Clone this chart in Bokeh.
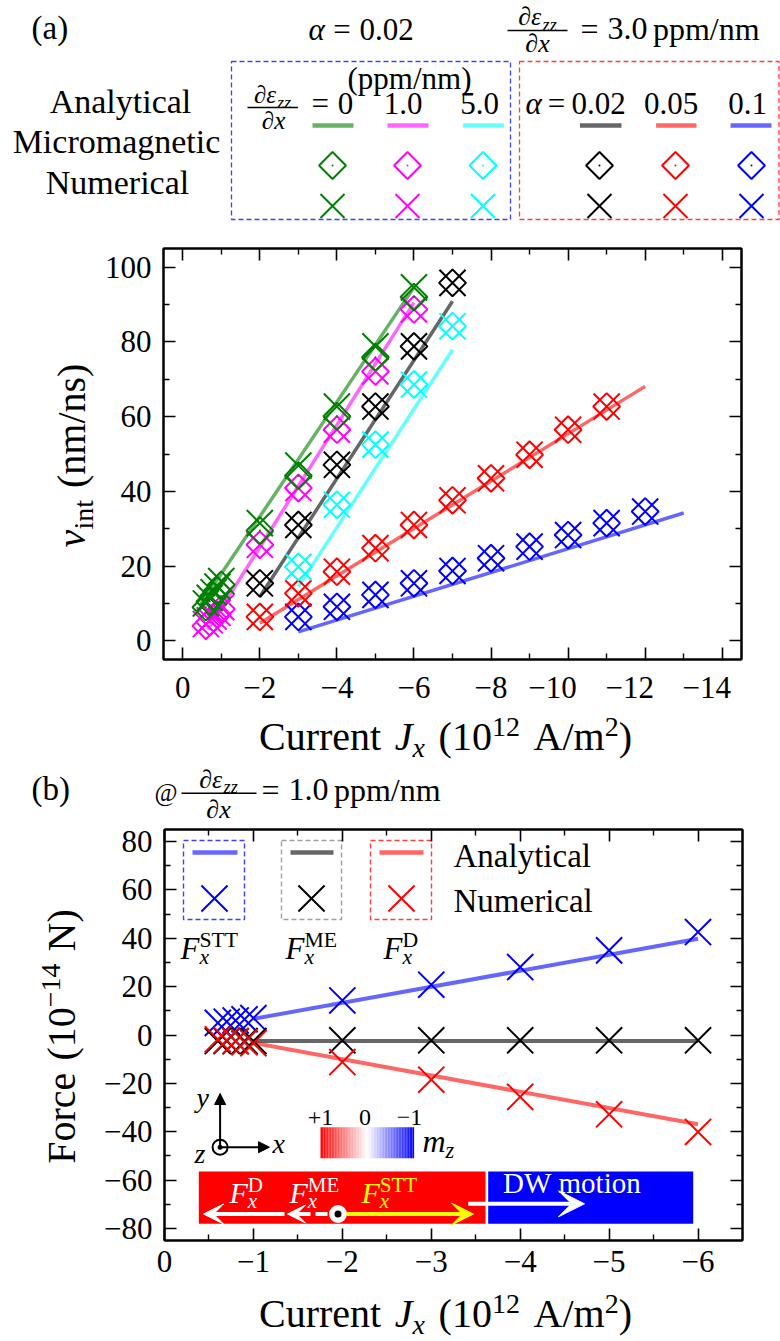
import numpy as np
from bokeh.plotting import figure
from bokeh.models import (Range1d, LinearAxis, FixedTicker, Label, Arrow, VeeHead,
                          NormalHead)
from bokeh.layouts import row
from bokeh.embed import file_html
from bokeh.resources import INLINE

FONT = "Liberation Serif"

# ------------------------------------------------------------------ data (a)
J_grad = [-0.6, -0.7, -0.8, -0.9, -1.0, -2.0, -3.0, -4.0, -5.0, -6.0]
v_g0_micro = [9.0, 10.5, 12.0, 13.5, 15.0, 29.5, 44.2, 60.1, 75.9, 92.0]
v_g0_num = [10.0, 11.5, 13.0, 14.5, 16.0, 31.5, 46.9, 62.7, 78.8, 94.6]
v_g1_micro = [4.0, 5.0, 6.0, 7.0, 8.5, 25.7, 40.9, 56.5, 72.1, 88.7]
v_g1_num = [4.5, 5.5, 6.5, 7.5, 9.0, 25.7, 40.9, 56.5, 72.1, 88.7]
J_g5 = [-3.0, -4.0, -5.0, -6.0, -7.0]
v_g5 = [19.8, 36.4, 52.5, 68.6, 84.2]
J_a002 = [-2.0, -3.0, -4.0, -5.0, -6.0, -7.0]
v_a002 = [15.4, 31.0, 47.1, 62.7, 78.8, 95.8]
J_a005 = [-2.0, -3.0, -4.0, -5.0, -6.0, -7.0, -8.0, -9.0, -10.0, -11.0]
v_a005 = [6.4, 12.7, 18.5, 24.8, 31.0, 37.6, 43.5, 49.8, 56.5, 62.7]
J_a01 = [-3.0, -4.0, -5.0, -6.0, -7.0, -8.0, -9.0, -10.0, -11.0, -12.0]
v_a01 = [6.4, 9.1, 12.3, 15.4, 18.7, 22.1, 25.2, 28.3, 31.5, 34.6]
# analytical curves (straight lines, end points)
Jl_g0, vl_g0 = [-0.45, -6.0], [9.5, 94.6]
Jl_g1, vl_g1 = [-0.65, -6.0], [3.0, 90.5]
Jl_g5, vl_g5 = [-3.0, -7.0], [14.5, 77.9]
Jl_a002, vl_a002 = [-2.0, -7.0], [11.8, 90.9]
Jl_a005, vl_a005 = [-2.0, -12.0], [4.7, 68.1]
Jl_a01, vl_a01 = [-3.0, -13.0], [2.4, 34.2]

xt_a = [0, -2, -4, -6, -8, -10, -12, -14]
xt_a_lab = ["0", "−2", "−4", "−6", "−8", "−10\u2002\u2002", "−12\u2002\u2002", "−14\u2002\u2002"]
xm_a = [-1, -3, -5, -7, -9, -11, -13]
yt_a = [0, 20, 40, 60, 80, 100]
yt_a_lab = ["0", "20", "40", "60", "80", "100"]
ym_a = [10, 30, 50, 70, 90]

# ------------------------------------------------------------------ data (b)
J_b = [-0.6, -0.7, -0.8, -0.9, -1.0, -2.0, -3.0, -4.0, -5.0, -6.0]
F_stt = [5.0, 5.5, 6.0, 6.5, 7.0, 14.3, 20.8, 28.1, 35.0, 42.6]
F_me = [-2.5, -2.5, -2.5, -2.5, -2.5, -2.2, -2.2, -2.2, -2.2, -2.2]
F_d = [-1.8, -2.2, -2.6, -3.0, -3.4, -11.2, -18.5, -25.6, -32.8, -40.1]
Jl_b = [-1.0, -6.0]
Fl_stt = [6.7, 39.8]
Fl_me = [-2.5, -2.5]
Fl_d = [-3.3, -36.9]

xt_b = [0, -1, -2, -3, -4, -5, -6]
xt_b_lab = ["0", "−1", "−2", "−3", "−4", "−5", "−6"]
xm_b = [-0.5, -1.5, -2.5, -3.5, -4.5, -5.5]
yt_b = [-80, -60, -40, -20, 0, 20, 40, 60, 80]
yt_b_lab = ["−80", "−60", "−40", "−20", "0", "20", "40", "60", "80"]
ym_b = [-70, -50, -30, -10, 10, 30, 50, 70]

GREEN, MAG, CYAN, BLACK, RED, BLUE = "#008000", "#ff00ff", "#00ffff", "#000000", "#ff0000", "#0000ff"

# ------------------------------------------------------------------ text helpers
W_R = {' ': 250, '(': 333, ')': 333, '+': 564, '.': 250, '/': 278, '=': 564, '@': 921,
       '−': 564, '∂': 494, 'α': 550, 'ε': 440}
for _d in "0123456789":
    W_R[_d] = 500
W_R.update({'A': 722, 'C': 667, 'D': 722, 'E': 611, 'F': 556, 'M': 889, 'N': 722, 'S': 556,
            'T': 611, 'W': 944, 'a': 444, 'b': 500, 'c': 444, 'd': 500, 'e': 444, 'f': 333,
            'g': 500, 'h': 500, 'i': 278, 'l': 278, 'm': 778, 'n': 500, 'o': 500, 'p': 500,
            'r': 333, 's': 389, 't': 278, 'u': 500, 'v': 500, 'w': 722, 'x': 500, 'y': 500,
            'z': 444})
W_I = dict(W_R)
W_I.update({'F': 611, 'J': 444, 'v': 444, 'x': 444, 'y': 444, 'z': 389, 'm': 722, 'α': 520})
MID = 0.3375   # distance baseline -> middle of the text box, in em


def tw(s, size, italic):
    tab = W_I if italic else W_R
    return sum(tab.get(c, 500) for c in s) / 1000.0 * size


def ident(px, py):
    return px, py


def runs(p, conv, parts, px, py, size, color="black", align="left", vertical=False,
         sub=0.2, sup=0.36):
    """Draw a run of text pieces; (px, py) is the baseline start in page pixels."""
    items = []
    adv = 0.0
    last = 0.0
    for part in parts:
        t, st = part[0], part[1]
        stack = len(part) > 2 and part[2]
        if st == "gap":
            adv += t * size
            continue
        small = st.startswith("sub") or st.startswith("sup")
        s = size * 0.7 if small else size
        italic = st in ("i", "subi", "supi")
        w = tw(t, s, italic)
        x0 = last if stack else adv
        if st.startswith("sub"):
            dy = sub * size
        elif st.startswith("sup"):
            dy = -sup * size
        else:
            dy = 0.0
        items.append((t, s, italic, x0, dy - MID * s))
        last = x0
        adv = max(adv, x0 + w) if stack else x0 + w
    off = {"left": 0.0, "center": -adv / 2.0, "right": -adv}[align]
    for t, s, italic, x0, dy in items:
        a = x0 + off
        if vertical:
            qx, qy, ang = px + dy, py - a, np.pi / 2
        else:
            qx, qy, ang = px + a, py + dy, 0.0
        x, y = conv(qx, qy)
        p.add_layout(Label(x=x, y=y, text=t, text_font=FONT, text_font_size=f"{s:.1f}px",
                           text_font_style="italic" if italic else "normal",
                           text_color=color, text_baseline="middle", text_align="left",
                           angle=ang))


def make_conv(fl, ft, fw, fh, xl, xr, yt, yb):
    def conv(px, py):
        return (xl + (px - fl) / fw * (xr - xl), yt + (py - ft) / fh * (yb - yt))
    return conv


def band(x0, y0, w, h, top=0, bottom=0):
    """A frameless figure whose data units are page pixels."""
    p = figure(frame_width=w, frame_height=h, x_range=Range1d(x0, x0 + w),
               y_range=Range1d(y0 + h, y0), x_axis_location=None, y_axis_location=None,
               min_border=0, min_border_left=0, min_border_right=0, min_border_top=top,
               min_border_bottom=bottom, toolbar_location=None, output_backend="svg",
               title=None, outline_line_color=None)
    p.grid.visible = False
    return p


def setup_axes(p, xt, xm, xl, yt, ym, yl):
    p.add_layout(LinearAxis(), "above")
    p.add_layout(LinearAxis(), "right")
    for ax in p.xaxis:
        ax.ticker = FixedTicker(ticks=xt, minor_ticks=xm)
    for ax in p.yaxis:
        ax.ticker = FixedTicker(ticks=yt, minor_ticks=ym)
    for ax in list(p.xaxis) + list(p.yaxis):
        ax.axis_line_width = 2
        ax.axis_line_color = "black"
        ax.major_tick_in = 12
        ax.major_tick_out = 0
        ax.minor_tick_in = 6
        ax.minor_tick_out = 0
        ax.major_tick_line_width = 1.6
        ax.minor_tick_line_width = 1.4
        ax.major_label_text_font = FONT
        ax.major_label_text_font_size = "31px"
        ax.major_label_text_color = "black"
    p.below[0].major_label_overrides = dict(zip(xt, xl))
    p.left[0].major_label_overrides = dict(zip(yt, yl))
    p.below[0].major_label_standoff = 10
    p.left[0].major_label_standoff = 12
    for ax in (p.above[0], p.right[0]):
        ax.major_label_text_font_size = "1px"
        ax.major_label_text_color = None
        ax.major_label_standoff = 0
    p.xgrid.visible = False
    p.ygrid.visible = False
    p.outline_line_color = "black"
    p.outline_line_width = 2


def diamonds(p, x, y, color, size=19):
    p.scatter(x, y, marker="square", angle=np.pi / 4, size=size, fill_color=None,
              line_color=color, line_width=2)
    p.scatter(x, y, marker="circle", size=2, fill_color=color, line_color=None)


def crosses(p, x, y, color, size=37, lw=2):
    p.scatter(x, y, marker="x", size=size, line_color=color, line_width=lw)


XLABEL = [("Current", "r"), (0.34, "gap"), ("J", "i"), ("x", "subi"), (0.34, "gap"),
          ("(10", "r"), ("12", "sup"), (0.34, "gap"), ("A/m", "r"), ("2", "sup"), (")", "r")]

# ================================================================== legend (a)  (page y 0-236)
pL = band(0, 0, 780, 236)

runs(pL, ident, [("(a)", "r")], 31, 39, 33)
runs(pL, ident, [("α", "i"), (0.28, "gap"), ("=", "r"), (0.28, "gap"), ("0.02", "r")], 308, 39, 31)
runs(pL, ident, [("∂", "r"), ("ε", "i"), ("zz", "subi")], 537, 25, 26, align="center")
pL.segment(507, 30, 567, 30, line_color="black", line_width=1.5)
runs(pL, ident, [("∂", "r"), ("x", "i")], 537, 52, 26, align="center")
runs(pL, ident, [("=", "r"), (0.28, "gap"), ("3.0", "r"), (0.17, "gap"), ("ppm/nm", "r")], 580, 39, 32)

runs(pL, ident, [("Analytical", "r")], 120, 112, 34, align="center")
runs(pL, ident, [("Micromagnetic", "r")], 116, 152, 34, align="center")
runs(pL, ident, [("Numerical", "r")], 117, 193, 34, align="center")

pL.quad(left=[231, 519], right=[510, 778.5], top=[61, 61], bottom=[219, 219], fill_color=None,
        line_color=[BLUE, RED], line_alpha=0.75, line_width=1.3, line_dash="5 3")

runs(pL, ident, [("(ppm/nm)", "r")], 409, 88, 31, align="center")
runs(pL, ident, [("∂", "r"), ("ε", "i"), ("zz", "subi")], 272, 102, 25, align="center")
pL.segment(247, 107, 297.5, 107, line_color="black", line_width=1.4)
runs(pL, ident, [("∂", "r"), ("x", "i")], 273, 128, 25, align="center")
runs(pL, ident, [("=", "r"), (0.28, "gap"), ("0", "r")], 311, 113, 31)
runs(pL, ident, [("1.0", "r")], 402.5, 113, 31, align="center")
runs(pL, ident, [("5.0", "r")], 479, 113, 31, align="center")
runs(pL, ident, [("α", "i"), (0.2, "gap"), ("=", "r"), (0.2, "gap"), ("0.02", "r")], 525, 113, 31)
runs(pL, ident, [("0.05", "r")], 670.5, 113, 31, align="center")
runs(pL, ident, [("0.1", "r")], 747, 113, 31, align="center")

leg_cols = [GREEN, MAG, CYAN, BLACK, RED, BLUE]
leg_x0 = [312, 387, 462.6, 579.5, 655.6, 730]
leg_x1 = [353, 428, 503.4, 621, 696, 771]
leg_xm = [332, 407, 482.5, 599, 675, 751]
pL.segment(leg_x0, [125] * 6, leg_x1, [125] * 6, line_color=leg_cols, line_width=4.5,
           line_alpha=0.6)
pL.scatter(leg_xm, [165] * 6, marker="square", angle=np.pi / 4, size=19, fill_color=None,
           line_color=leg_cols, line_width=2)
pL.scatter(leg_xm, [165] * 6, marker="circle", size=2, fill_color=leg_cols, line_color=None)
pL.scatter(leg_xm, [205.5] * 6, marker="x", size=34, line_color=leg_cols, line_width=2)

# ================================================================== panel (a)  (page y 236-707)
sA = band(0, 248, 100, 411, top=12, bottom=48)
pA = figure(frame_width=578, frame_height=411, x_range=Range1d(0.5, -14.5),
            y_range=Range1d(-5, 105), min_border_left=63, min_border_right=39,
            min_border_top=12, min_border_bottom=48, toolbar_location=None,
            output_backend="svg", title=None)
setup_axes(pA, xt_a, xm_a, xt_a_lab, yt_a, ym_a, yt_a_lab)

for Jl, vl, c in [(Jl_a01, vl_a01, BLUE), (Jl_a005, vl_a005, RED), (Jl_a002, vl_a002, BLACK),
                  (Jl_g5, vl_g5, CYAN), (Jl_g1, vl_g1, MAG), (Jl_g0, vl_g0, GREEN)]:
    pA.line(Jl, vl, line_color=c, line_width=3.5, line_alpha=0.6)

for J, vm, vn, c in [(J_a01, v_a01, v_a01, BLUE), (J_a005, v_a005, v_a005, RED),
                     (J_a002, v_a002, v_a002, BLACK), (J_g5, v_g5, v_g5, CYAN),
                     (J_grad, v_g1_micro, v_g1_num, MAG), (J_grad, v_g0_micro, v_g0_num, GREEN)]:
    diamonds(pA, J, vm, c)
    crosses(pA, J, vn, c)

runs(sA, ident, [("v", "i"), ("int", "sub"), (0.3, "gap"), ("(nm/ns)", "r")], 84, 455, 40,
     align="center", vertical=True)

pXA = band(0, 707, 780, 57)
runs(pXA, ident, XLABEL, 445, 749, 40, align="center", sub=0.18, sup=0.33)

# ================================================================== title (b)  (page y 764-824)
pTB = band(0, 764, 780, 60)
runs(pTB, ident, [("(b)", "r")], 31, 800, 33)
runs(pTB, ident, [("@", "r")], 154, 800, 25)
runs(pTB, ident, [("∂", "r"), ("ε", "i"), ("zz", "subi")], 218, 787.5, 26, align="center")
pTB.segment(181, 792.7, 256, 792.7, line_color="black", line_width=1.5)
runs(pTB, ident, [("∂", "r"), ("x", "i")], 218, 818, 26, align="center")
runs(pTB, ident, [("=", "r"), (0.28, "gap"), ("1.0", "r"), (0.17, "gap"), ("ppm/nm", "r")],
     261, 800, 32)

# ================================================================== panel (b)  (page y 824-1287)
sB = band(0, 829, 100, 411, top=5, bottom=47)
pB = figure(frame_width=578, frame_height=411, x_range=Range1d(0, -6.5),
            y_range=Range1d(-85, 85), min_border_left=64, min_border_right=38,
            min_border_top=5, min_border_bottom=47, toolbar_location=None,
            output_backend="svg", title=None)
setup_axes(pB, xt_b, xm_b, xt_b_lab, yt_b, ym_b, yt_b_lab)
cB = make_conv(164, 829, 578, 411, 0.0, -6.5, 85, -85)


def bx(px):
    return cB(px, 0)[0]


def by(py):
    return cB(0, py)[1]


# inset: magnetisation bars
pB.quad(left=[bx(198.3), bx(487.7)], right=[bx(485), bx(692.7)], top=[by(1171)] * 2,
        bottom=[by(1223.3)] * 2, fill_color=[RED, BLUE], line_color=None)
# colour bar
edges = np.linspace(320, 413.6, 61)
cols = []
for k in range(60):
    t = (k + 0.5) / 60
    if t < 0.5:
        g = int(255 * 2 * t)
        cols.append("#%02x%02x%02x" % (255, g, g))
    else:
        g = int(255 * (2 - 2 * t))
        cols.append("#%02x%02x%02x" % (g, g, 255))
pB.quad(left=[bx(e) for e in edges[:-1]], right=[bx(e) for e in edges[1:]],
        top=[by(1126.7)] * 60, bottom=[by(1157.7)] * 60, fill_color=cols, line_color=None)

# analytical lines + numerical crosses
for Fl, c in [(Fl_stt, BLUE), (Fl_me, BLACK), (Fl_d, RED)]:
    pB.line(Jl_b, Fl, line_color=c, line_width=4, line_alpha=0.6)
for F, c in [(F_stt, BLUE), (F_me, BLACK), (F_d, RED)]:
    crosses(pB, J_b, F, c, size=37)

# legend in (b)
pB.quad(left=[bx(183), bx(281), bx(370)], right=[bx(244), bx(341), bx(431)],
        top=[by(840)] * 3, bottom=[by(919)] * 3, fill_color=None,
        line_color=[BLUE, "gray", RED], line_alpha=0.75, line_width=1.4, line_dash="5 3")
pB.segment([bx(192), bx(290), bx(379)], [by(852)] * 3, [bx(237), bx(333), bx(423)],
           [by(852)] * 3, line_color=[BLUE, BLACK, RED], line_width=4.5, line_alpha=0.6)
pB.scatter([bx(214), bx(311), bx(401)], [by(898)] * 3, marker="x", size=37,
           line_color=[BLUE, BLACK, RED], line_width=2)
runs(pB, cB, [("Analytical", "r")], 453, 867, 33)
runs(pB, cB, [("Numerical", "r")], 453, 912, 33)
runs(pB, cB, [("F", "i"), ("x", "subi"), ("STT", "sup", True)], 180, 958, 31)
runs(pB, cB, [("F", "i"), ("x", "subi"), ("ME", "sup", True)], 285, 958, 31)
runs(pB, cB, [("F", "i"), ("x", "subi"), ("D", "sup", True)], 383, 958, 31)

# coordinate system
pB.add_layout(Arrow(end=NormalHead(size=11, fill_color="black", line_color="black"),
                    x_start=bx(219.6), y_start=by(1146.7), x_end=bx(219.6), y_end=by(1093),
                    line_width=2, line_color="black"))
pB.add_layout(Arrow(end=NormalHead(size=11, fill_color="black", line_color="black"),
                    x_start=bx(219.6), y_start=by(1146.7), x_end=bx(269), y_end=by(1146.7),
                    line_width=2, line_color="black"))
runs(pB, cB, [("y", "i")], 196, 1106, 28)
runs(pB, cB, [("x", "i")], 272, 1152, 28)
runs(pB, cB, [("z", "i")], 194, 1162, 28)
runs(pB, cB, [("+1", "r")], 320, 1125, 24, align="center")
runs(pB, cB, [("0", "r")], 364.5, 1125, 24, align="center")
runs(pB, cB, [("−1", "r")], 409, 1125, 24, align="center")
runs(pB, cB, [("m", "i"), ("z", "subi")], 422, 1151, 32)

# force arrows on the wall
Yar = 1213.5
pB.add_layout(Arrow(end=VeeHead(size=20, fill_color="white", line_color="white"),
                    x_start=bx(284), y_start=by(Yar), x_end=bx(203), y_end=by(Yar),
                    line_width=4, line_color="white"))
pB.add_layout(Arrow(end=VeeHead(size=18, fill_color="white", line_color="white"),
                    x_start=bx(310), y_start=by(Yar), x_end=bx(287), y_end=by(Yar),
                    line_width=4, line_color="white"))
pB.segment(bx(315), by(Yar), bx(327), by(Yar), line_color="white", line_width=4)
pB.add_layout(Arrow(end=VeeHead(size=22, fill_color="yellow", line_color="yellow"),
                    x_start=bx(346), y_start=by(Yar), x_end=bx(473), y_end=by(Yar),
                    line_width=4, line_color="yellow"))
pB.add_layout(Arrow(end=VeeHead(size=26, fill_color="white", line_color="white"),
                    x_start=bx(467.7), y_start=by(1203.3), x_end=bx(584), y_end=by(1203.3),
                    line_width=4, line_color="white"))
pB.scatter([bx(337.5), bx(219.6)], [by(Yar), by(1146.7)], marker="circle", size=[16, 15],
           fill_color="white", line_color=["white", "black"], line_width=2)
pB.scatter([bx(337.5), bx(219.6)], [by(Yar), by(1146.7)], marker="circle", size=[7, 5],
           fill_color="black", line_color=None)
runs(pB, cB, [("F", "i"), ("x", "subi"), ("D", "sup", True)], 229, 1202, 30, color="white")
runs(pB, cB, [("F", "i"), ("x", "subi"), ("ME", "sup", True)], 289, 1202, 30, color="white")
runs(pB, cB, [("F", "i"), ("x", "subi"), ("STT", "sup", True)], 361, 1202, 30, color="yellow")
runs(pB, cB, [("DW", "r"), (0.25, "gap"), ("motion", "r")], 502.5, 1192, 29, color="white")

runs(sB, ident, [("Force", "r"), (0.3, "gap"), ("(10", "r"), ("−14", "sup"), (0.3, "gap"),
                 ("N)", "r")], 74, 1036, 40, align="center", vertical=True)

pXB = band(0, 1287, 780, 54)
runs(pXB, ident, XLABEL, 445, 1326.5, 40, align="center", sub=0.18, sup=0.33)

roots = [pL, row(sA, pA), pXA, pTB, row(sB, pB), pXB]
open("out.html", "w", encoding="utf-8").write(file_html(roots, INLINE, title="plot"))
